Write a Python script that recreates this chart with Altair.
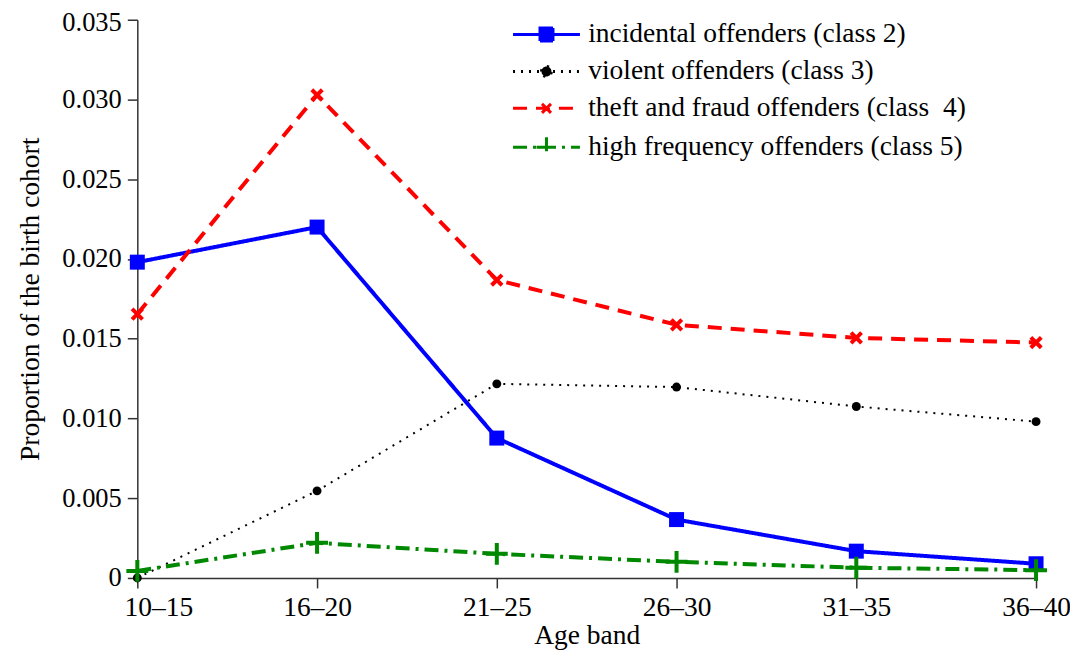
import altair as alt
import pandas as pd

# ---- data ----
age_bands = ["10–15", "16–20", "21–25", "26–30", "31–35", "36–40"]
series_names = [
    "incidental offenders (class 2)",
    "violent offenders (class 3)",
    "theft and fraud offenders (class \u00a04)",
    "high frequency offenders (class 5)",
]
incidental = [0.0198, 0.0220, 0.00877, 0.00366, 0.00168, 0.00089]
violent = [0.0, 0.00546, 0.01217, 0.01197, 0.01075, 0.0098]
theft = [0.01654, 0.03028, 0.01868, 0.01587, 0.01505, 0.01476]
high_freq = [0.00044, 0.0022, 0.00151, 0.00101, 0.00064, 0.00049]
y_ticks = [0, 0.005, 0.010, 0.015, 0.020, 0.025, 0.030, 0.035]

# ---- styles ----
colors = ["#0000ff", "#000000", "#ff0000", "#008800"]
dashes = [[1, 0], [2, 6], [14, 9], [14, 6, 3, 6]]
line_widths = [4, 2, 4, 4]
marker_shapes = ["square", "circle", "M-1,-1L1,1M-1,1L1,-1", "M-1,0H1M0,-1V1"]
marker_sizes = [225, 80, 110, 480]
marker_filled = [True, True, False, False]
marker_strokes = [0, 0, 4, 4]
# legend symbols: line + marker (unit = 10px)
legend_paths = [
    "M-3.35,0H3.35M-0.65,-0.65H0.65V0.65H-0.65Z",
    "M-3.35,0H3.35M-0.5,0A0.5,0.5,0,1,1,0.5,0A0.5,0.5,0,1,1,-0.5,0Z",
    "M-3.35,0H3.35M-0.45,-0.45L0.45,0.45M-0.45,0.45L0.45,-0.45",
    "M-3.35,0H3.35M-1,0H1M0,-1V1",
]

values_by_series = [incidental, violent, theft, high_freq]
rows = []
for name, vals in zip(series_names, values_by_series):
    for band, v in zip(age_bands, vals):
        rows.append({"series": name, "age": band, "value": v})
df = pd.DataFrame(rows)

FONT = "Liberation Serif"

x_enc = alt.X(
    "age:N",
    sort=age_bands,
    scale=alt.Scale(domain=age_bands, padding=0),
    axis=alt.Axis(
        title="Age band", labelAngle=0, labelPadding=6, titlePadding=0,
        tickSize=10, grid=False, labelFontSize=27.5,
        labelOffset={"condition": {"test": "datum.value == '10–15'", "value": 21},
                     "value": 0},
    ),
)
y_enc = alt.Y(
    "value:Q",
    scale=alt.Scale(domain=[0, 0.035], nice=False, zero=True),
    axis=alt.Axis(
        title="Proportion of the birth cohort", values=y_ticks,
        labelExpr="datum.value == 0 ? '0' : format(datum.value, '.3f')",
        tickSize=10, labelPadding=6, titlePadding=17, grid=False,
        labelFontSize=26.5,
        labelOffset={"condition": {"test": "datum.value >= 0.0349", "value": 3},
                     "value": 0},
    ),
)

layers = []
for i, name in enumerate(series_names):
    base = alt.Chart(df).transform_filter(alt.datum.series == name)
    line = base.mark_line(
        color=colors[i], strokeDash=dashes[i], strokeWidth=line_widths[i]
    ).encode(x=x_enc, y=y_enc)
    layers.append(line)
for i, name in enumerate(series_names):
    base = alt.Chart(df).transform_filter(alt.datum.series == name)
    pts = base.mark_point(
        shape=marker_shapes[i], size=marker_sizes[i], filled=marker_filled[i],
        color=colors[i], strokeWidth=marker_strokes[i], opacity=1,
    ).encode(x=x_enc, y=y_enc)
    layers.append(pts)

legend_def = alt.Legend(
    title=None, orient="none", legendX=396, legendY=1,
    labelFont=FONT, labelFontSize=27.5, labelColor="black",
    symbolSize=400, symbolStrokeWidth=3, symbolOffset=0,
    labelOffset=28, rowPadding=8, labelLimit=600,
)
legend_layer = alt.Chart(df).transform_filter("false").mark_point(
    size=400, strokeWidth=3, opacity=1
).encode(
    x=x_enc, y=y_enc,
    shape=alt.Shape("series:N", scale=alt.Scale(domain=series_names, range=legend_paths), legend=legend_def),
    stroke=alt.Stroke("series:N", scale=alt.Scale(domain=series_names, range=colors), legend=legend_def),
    fill=alt.Fill("series:N", scale=alt.Scale(domain=series_names, range=colors), legend=legend_def),
    strokeDash=alt.StrokeDash("series:N", scale=alt.Scale(domain=series_names, range=dashes), legend=legend_def),
)
layers.append(legend_layer)

chart = alt.layer(*layers).properties(
    width=900, height=559,
    autosize=alt.AutoSizeParams(type="none"),
    padding={"left": 129.5, "top": 11.3, "right": 34, "bottom": 77},
).configure_view(stroke=None).configure_axis(
    labelFont=FONT, titleFont=FONT, titleFontSize=27.5,
    labelColor="black", titleColor="black", titleFontWeight="normal",
    domainColor="#333333", tickColor="#333333", domainWidth=1.5, tickWidth=1.5,
).configure_legend(
    labelFont=FONT, labelFontSize=27.5,
)

chart.save("out.html", embed_options={"renderer": "svg", "actions": False})
